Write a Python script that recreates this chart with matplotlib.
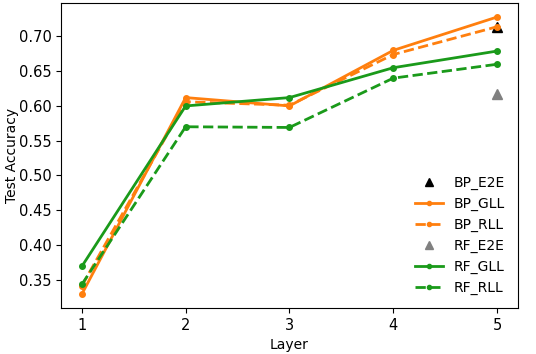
import matplotlib
matplotlib.use("Agg")
import matplotlib.pyplot as plt

layers = [1, 2, 3, 4, 5]

bp_e2e = 0.714
bp_gll = [0.329, 0.612, 0.600, 0.680, 0.728]
bp_rll = [0.341, 0.606, 0.601, 0.674, 0.714]
rf_e2e = 0.617
rf_gll = [0.369, 0.600, 0.612, 0.655, 0.679]
rf_rll = [0.343, 0.570, 0.569, 0.640, 0.660]

orange = "#ff7f0e"
green = "#1a9a1a"

fig = plt.figure(figsize=(5.36, 3.54), dpi=100)
ax = fig.add_axes([0.114, 0.130, 0.852, 0.861])

ax.plot(layers[-1], bp_e2e, "^", color="black", markersize=7.5, label="BP_E2E")
ax.plot(layers, bp_gll, "-o", color=orange, lw=2, markersize=4, label="BP_GLL")
ax.plot(layers, bp_rll, "--o", color=orange, lw=2, markersize=4, label="BP_RLL")
ax.plot(layers[-1], rf_e2e, "^", color="gray", markersize=7.5, label="RF_E2E")
ax.plot(layers, rf_gll, "-o", color=green, lw=2, markersize=4, label="RF_GLL")
ax.plot(layers, rf_rll, "--o", color=green, lw=2, markersize=4, label="RF_RLL")

ax.set_xticks(layers)
ax.set_yticks([0.35, 0.40, 0.45, 0.50, 0.55, 0.60, 0.65, 0.70])
ax.tick_params(labelsize=10.5)
ax.set_xlabel("Layer", fontsize=10)
ax.set_ylabel("Test Accuracy", fontsize=10)
ax.yaxis.set_label_coords(-0.092, 0.5)
ax.legend(loc="lower right", frameon=False, markerscale=0.75)

fig.savefig("out.png", dpi=100)
